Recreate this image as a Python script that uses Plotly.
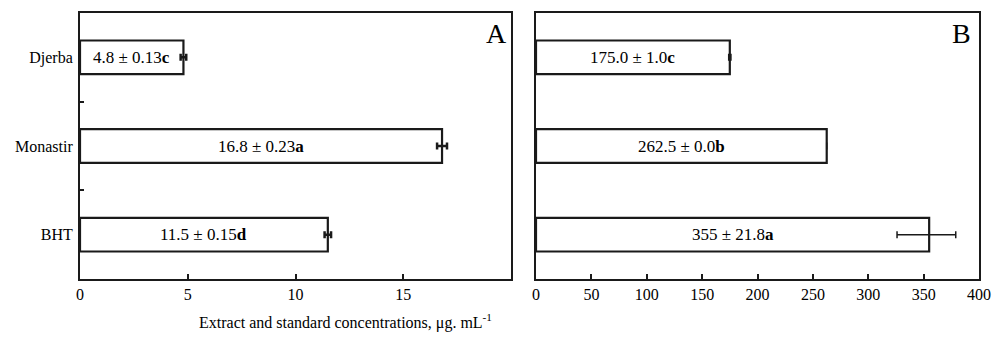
import plotly.graph_objects as go

categories = ["Djerba", "Monastir", "BHT"]
a_values = [4.8, 16.8, 11.5]
a_err = [0.13, 0.23, 0.15]
a_letters = ["c", "a", "d"]
a_labels = ["4.8 ± 0.13", "16.8 ± 0.23", "11.5 ± 0.15"]
b_values = [175.0, 262.5, 355.0]
b_err_plus = [1.0, 0.0, 24.0]
b_err_minus = [1.0, 0.0, 29.0]
b_letters = ["c", "b", "a"]
b_labels = ["175.0 ± 1.0", "262.5 ± 0.0", "355 ± 21.8"]
a_ticks = [0, 5, 10, 15]
b_ticks = [0, 50, 100, 150, 200, 250, 300, 350, 400]

W, H = 993, 340
FONT = "Liberation Serif, Times New Roman, serif"
LC = "#1a1a1a"
ypos = list(range(len(categories)))

fig = go.Figure()
fig.add_trace(go.Bar(
    x=a_values, y=ypos, orientation="h", width=0.38,
    marker=dict(color="white", line=dict(color=LC, width=2.2)),
    error_x=dict(type="data", array=a_err, color=LC, thickness=2.5, width=3.5),
    xaxis="x", yaxis="y", showlegend=False, hoverinfo="skip"))
fig.add_trace(go.Bar(
    x=b_values, y=ypos, orientation="h", width=0.38,
    marker=dict(color="white", line=dict(color=LC, width=2.2)),
    error_x=dict(type="data", symmetric=False, array=b_err_plus, arrayminus=b_err_minus,
                 color=LC, thickness=1.5, width=3.5),
    xaxis="x2", yaxis="y2", showlegend=False, hoverinfo="skip"))

ann = []
for i in ypos:
    ann.append(dict(x=a_values[i] / 2, y=i, xref="x", yref="y",
                    text=f"{a_labels[i]}<b>{a_letters[i]}</b>", showarrow=False,
                    font=dict(family=FONT, size=17, color="black")))
    ann.append(dict(x=b_values[i] / 2, y=i, xref="x2", yref="y2",
                    text=f"{b_labels[i]}<b>{b_letters[i]}</b>", showarrow=False,
                    font=dict(family=FONT, size=17, color="black")))
ann.append(dict(x=1.0, y=0.99, xref="x domain", yref="y domain", xanchor="right", yanchor="top",
                text="A", showarrow=False, font=dict(family=FONT, size=28, color="black"), xshift=-2))
ann.append(dict(x=1.0, y=0.99, xref="x2 domain", yref="y2 domain", xanchor="right", yanchor="top",
                text="B", showarrow=False, font=dict(family=FONT, size=28, color="black"), xshift=-6))
ann.append(dict(x=345 / W, y=1 - 321 / H, xref="paper", yref="paper", xanchor="center", yanchor="middle",
                text="Extract and standard concentrations, μg. mL<sup>-1</sup>", showarrow=False,
                font=dict(family=FONT, size=16, color="black")))

axis_common = dict(showline=True, mirror=True, linecolor=LC, linewidth=2, showgrid=False,
                   zeroline=False, ticks="inside", ticklen=5, tickwidth=1.5, tickcolor=LC,
                   automargin=False,
                   tickfont=dict(family=FONT, size=16, color="black"))
ydom = [1 - 279 / H, 1 - 13 / H]
fig.update_layout(
    width=W, height=H, margin=dict(l=0, r=0, t=0, b=0, autoexpand=False),
    plot_bgcolor="white", paper_bgcolor="white",
    xaxis=dict(domain=[80 / W, 511 / W], range=[0, 20], tickvals=a_ticks, anchor="y", **axis_common),
    xaxis2=dict(domain=[536 / W, 979 / W], range=[0, 400], tickvals=b_ticks, anchor="y2", **axis_common),
    yaxis=dict(domain=ydom, range=[2.5, -0.5], tickvals=ypos, ticktext=categories, anchor="x",
               showline=True, mirror=True, linecolor=LC, linewidth=2, showgrid=False, zeroline=False,
               ticks="inside", ticklen=0, ticklabelstandoff=2, automargin=False,
               tickfont=dict(family=FONT, size=16, color="black"),
               minor=dict(tickvals=[0.5, 1.5], ticks="inside", ticklen=4, tickwidth=2, tickcolor=LC)),
    yaxis2=dict(domain=ydom, range=[2.5, -0.5], anchor="x2", showticklabels=False, automargin=False,
                showline=True, mirror=True, linecolor=LC, linewidth=2, showgrid=False, zeroline=False,
                ticks=""),
    annotations=ann,
)
fig.write_html("out.html", config={"displayModeBar": False},
               post_script="document.body.style.margin='0';document.body.style.overflow='hidden';")
